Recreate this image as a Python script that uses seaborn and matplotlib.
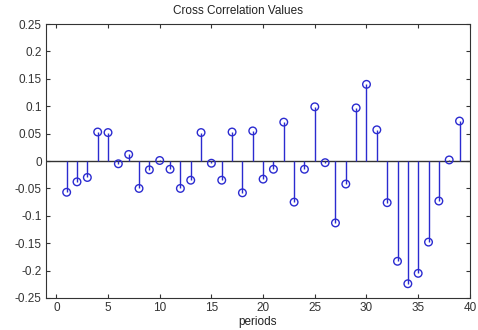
import matplotlib
matplotlib.use("Agg")
import matplotlib.pyplot as plt
import seaborn as sns
import pandas as pd
import numpy as np

periods = list(range(1, 40))
values = [-0.057, -0.038, -0.030, 0.053, 0.052, -0.005, 0.012, -0.050, -0.016, 0.001,
          -0.015, -0.050, -0.035, 0.052, -0.004, -0.035, 0.053, -0.058, 0.055, -0.033,
          -0.015, 0.071, -0.075, -0.015, 0.099, -0.003, -0.113, -0.042, 0.097, 0.140,
          0.057, -0.076, -0.183, -0.224, -0.205, -0.148, -0.073, 0.002, 0.073]
x_ticks = [0, 5, 10, 15, 20, 25, 30, 35, 40]
y_ticks = [-0.25, -0.2, -0.15, -0.1, -0.05, 0, 0.05, 0.1, 0.15, 0.2, 0.25]
y_tick_labels = ["-0.25", "-0.2", "-0.15", "-0.1", "-0.05", "0", "0.05", "0.1", "0.15", "0.2", "0.25"]

sns.set_style("ticks")
plt.rcParams['font.family'] = ['Liberation Sans', 'DejaVu Sans']

df = pd.DataFrame({"period": periods, "value": values})
blue = "#2b2bd0"

fig = plt.figure(figsize=(4.78, 3.30), dpi=100)
ax = fig.add_axes([0.0962, 0.097, 0.8868, 0.830])

ax.axhline(0, color="#333333", lw=1.0, zorder=1)
ax.vlines(df["period"], 0, df["value"], color=blue, lw=1.0, zorder=2)
sns.scatterplot(data=df, x="period", y="value", ax=ax, marker="o", s=30,
                facecolors="none", edgecolor=blue, linewidth=1.0, zorder=3, legend=False)

ax.set_xlim(-1, 40)
ax.set_ylim(-0.25, 0.25)
ax.set_xticks(x_ticks)
ax.set_xticklabels([str(t) for t in x_ticks])
ax.set_yticks(y_ticks)
ax.set_yticklabels(y_tick_labels)
ax.tick_params(direction="in", length=3, width=0.8, top=True, right=True,
               labelsize=8.5, colors="#333333", pad=3)
for sp in ax.spines.values():
    sp.set_visible(True)
    sp.set_color("#333333")
    sp.set_linewidth(0.8)

ax.set_xlabel("periods", fontsize=8.5, color="#222222", labelpad=1)
ax.set_ylabel("")
fig.text(0.497, 0.968, "Cross Correlation Values", fontsize=8.5, color="#222222",
         ha="center", va="center")

fig.savefig("out.png", dpi=100, facecolor="white")
